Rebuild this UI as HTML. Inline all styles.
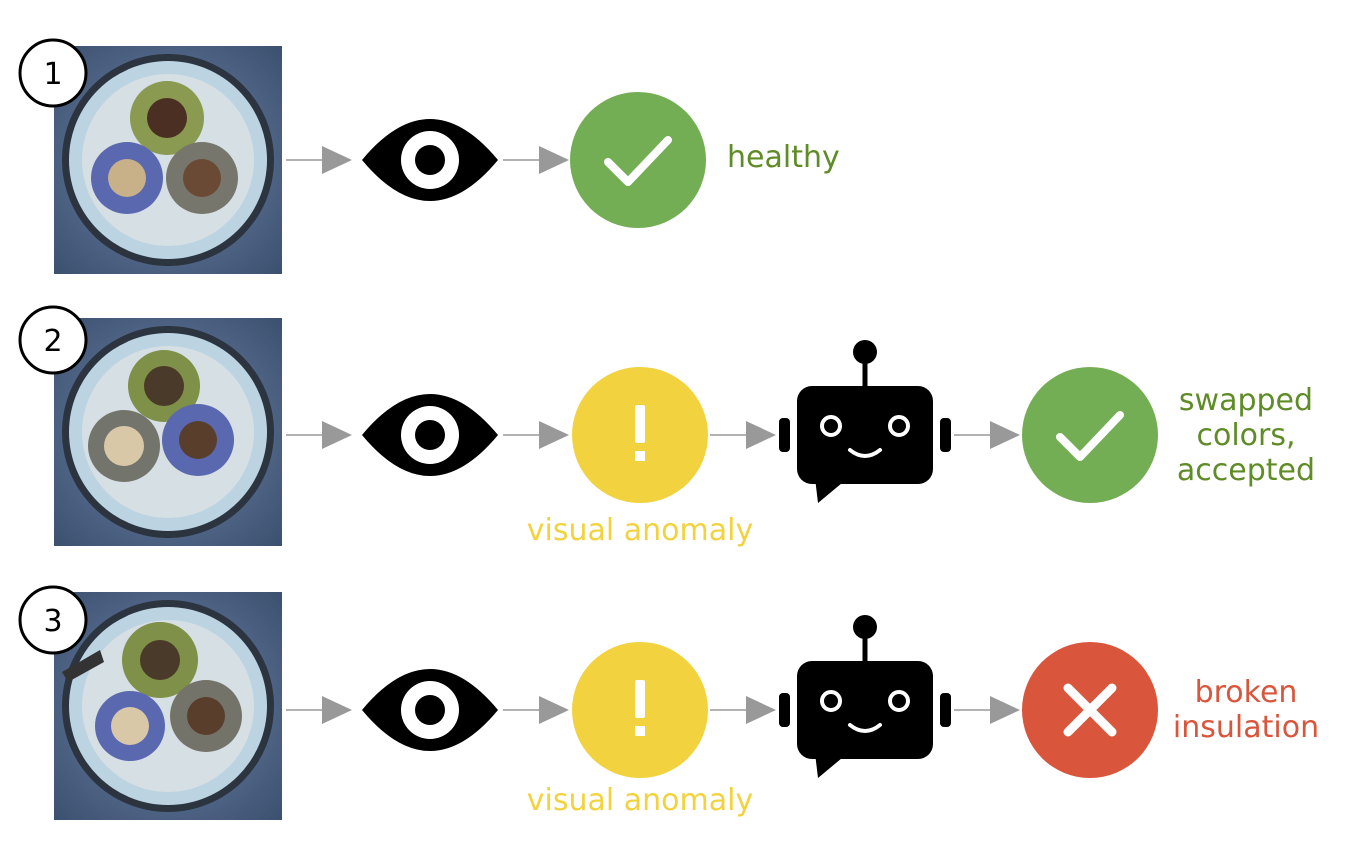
<!DOCTYPE html>
<html><head><style>body{margin:0;background:#fff}svg{display:block}</style></head><body>
<svg width="1366" height="850" viewBox="0 0 1366 850" xmlns="http://www.w3.org/2000/svg" font-family="DejaVu Sans, Liberation Sans, sans-serif">
<defs>
<radialGradient id="bg" cx="50%" cy="50%" r="70%"><stop offset="0" stop-color="#6f86a8"/><stop offset="1" stop-color="#3c5070"/></radialGradient>
<g id="cable">
<rect x="0" y="0" width="228" height="228" fill="url(#bg)"/>
<circle cx="114" cy="114" r="106" fill="#2c3440"/>
<circle cx="114" cy="114" r="99" fill="#bcd3e2"/>
<circle cx="114" cy="114" r="86" fill="#d6dfe4"/>
</g>
<g id="eye"><path d="M0 0 Q68 -82 136 0 Q68 82 0 0Z" fill="#000"/><circle cx="68" cy="0" r="29" fill="#fff"/><circle cx="68" cy="0" r="15" fill="#000"/></g>
<g id="arr"><line x1="0" y1="0" x2="38" y2="0" stroke="#999" stroke-width="1.5"/><path d="M36 -14 L66 0 L36 14Z" fill="#999"/></g>
<g id="robot">
<circle cx="87" cy="12" r="12" fill="#000"/><rect x="84.5" y="12" width="5" height="36" fill="#000"/>
<rect x="19" y="46" width="136" height="98" rx="15" fill="#000"/>
<path d="M37 138 L40 163 L70 138Z" fill="#000"/>
<rect x="1" y="78" width="11" height="34" rx="4" fill="#000"/><rect x="162" y="78" width="11" height="34" rx="4" fill="#000"/>
<circle cx="53" cy="86" r="9" fill="none" stroke="#fff" stroke-width="4"/><circle cx="121" cy="86" r="9" fill="none" stroke="#fff" stroke-width="4"/>
<path d="M72 110 Q87 122 102 110" fill="none" stroke="#fff" stroke-width="4" stroke-linecap="round"/>
</g>
<g id="check"><path d="M-30 2 L-10 22 L30 -20" fill="none" stroke="#fff" stroke-width="8" stroke-linecap="round" stroke-linejoin="round"/></g>
<g id="bang"><rect x="-5" y="-30" width="10" height="38" rx="2" fill="#fff"/><rect x="-5" y="16" width="10" height="10" fill="#fff"/></g>
</defs>

<!-- row 1 -->
<use href="#cable" x="54" y="46"/>
<circle cx="167" cy="118" r="37" fill="#8a9a50"/><circle cx="167" cy="118" r="20" fill="#4a2f22"/>
<circle cx="127" cy="178" r="36" fill="#5a68b0"/><circle cx="127" cy="178" r="19" fill="#c8b088"/>
<circle cx="202" cy="178" r="36" fill="#76766c"/><circle cx="202" cy="178" r="19" fill="#6a4a34"/>
<circle cx="53" cy="73" r="33" fill="#fff" stroke="#000" stroke-width="3"/>
<text x="53" y="84" font-size="30" text-anchor="middle">1</text>
<use href="#arr" x="286" y="160"/><use href="#eye" x="362" y="160"/><use href="#arr" x="503" y="160"/>
<circle cx="638" cy="160" r="68" fill="#74ae54"/><use href="#check" x="638" y="160"/>
<text x="727" y="167" font-size="30" fill="#5f8c26">healthy</text>

<!-- row 2 -->
<use href="#cable" x="54" y="318"/>
<circle cx="164" cy="386" r="36" fill="#7f9048"/><circle cx="164" cy="386" r="20" fill="#4a3a2a"/>
<circle cx="124" cy="446" r="36" fill="#73746c"/><circle cx="124" cy="446" r="20" fill="#d8c8a8"/>
<circle cx="198" cy="440" r="36" fill="#5a68b0"/><circle cx="198" cy="440" r="19" fill="#5a3e2c"/>
<circle cx="53" cy="340" r="33" fill="#fff" stroke="#000" stroke-width="3"/>
<text x="53" y="351" font-size="30" text-anchor="middle">2</text>
<use href="#arr" x="286" y="435"/><use href="#eye" x="362" y="435"/><use href="#arr" x="503" y="435"/>
<circle cx="640" cy="435" r="68" fill="#f2d33f"/><use href="#bang" x="640" y="435"/>
<text x="640" y="540" font-size="30" fill="#f2d33f" text-anchor="middle">visual anomaly</text>
<use href="#arr" x="710" y="435"/><use href="#robot" x="778" y="340"/><use href="#arr" x="954" y="435"/>
<circle cx="1090" cy="435" r="68" fill="#74ae54"/><use href="#check" x="1090" y="435"/>
<g font-size="30" fill="#5f8c26" text-anchor="middle"><text x="1246" y="410">swapped</text><text x="1246" y="445">colors,</text><text x="1246" y="480">accepted</text></g>

<!-- row 3 -->
<use href="#cable" x="54" y="592"/>
<path d="M62 672 L100 650 L104 662 L68 682Z" fill="#333"/>
<circle cx="160" cy="660" r="38" fill="#7f9048"/><circle cx="160" cy="660" r="20" fill="#4a3a2a"/>
<circle cx="130" cy="726" r="35" fill="#5a68b0"/><circle cx="130" cy="726" r="19" fill="#d8c8a8"/>
<circle cx="206" cy="716" r="36" fill="#74736a"/><circle cx="206" cy="716" r="19" fill="#5a3e2c"/>
<circle cx="53" cy="620" r="33" fill="#fff" stroke="#000" stroke-width="3"/>
<text x="53" y="631" font-size="30" text-anchor="middle">3</text>
<use href="#arr" x="286" y="710"/><use href="#eye" x="362" y="710"/><use href="#arr" x="503" y="710"/>
<circle cx="640" cy="710" r="68" fill="#f2d33f"/><use href="#bang" x="640" y="710"/>
<text x="640" y="810" font-size="30" fill="#f2d33f" text-anchor="middle">visual anomaly</text>
<use href="#arr" x="710" y="710"/><use href="#robot" x="778" y="615"/><use href="#arr" x="954" y="710"/>
<circle cx="1090" cy="710" r="68" fill="#d9563c"/>
<path d="M1068 688 L1112 732 M1112 688 L1068 732" stroke="#fff" stroke-width="9" stroke-linecap="round"/>
<g font-size="30" fill="#d9563c" text-anchor="middle"><text x="1246" y="702">broken</text><text x="1246" y="737">insulation</text></g>
</svg>
</body></html>
